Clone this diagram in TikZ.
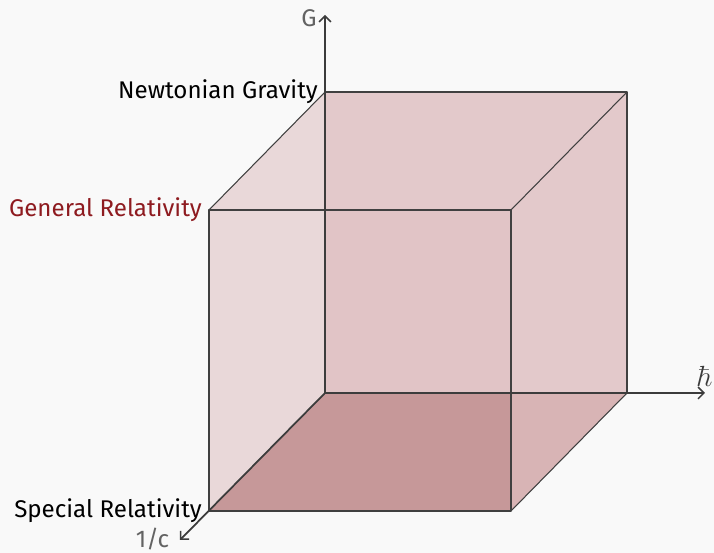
\documentclass[tikz,border=0pt]{standalone}
\usepackage[no-math]{fontspec}
\setmainfont{Fira Sans}
\usepackage{xcolor}
\definecolor{bggray}{HTML}{F9F9F9}
\definecolor{leftface}{HTML}{E9D8D9}
\definecolor{backface}{HTML}{E3C9CB}
\definecolor{frontback}{HTML}{E1C4C6}
\definecolor{bottomface}{HTML}{D8B4B5}
\definecolor{bottomfront}{HTML}{C69899}
\definecolor{edgegray}{HTML}{404040}
\definecolor{axisgray}{HTML}{3C3C3C}
\definecolor{relred}{HTML}{8E1B20}
\usetikzlibrary{arrows.meta}
\tikzset{
  cubeedge/.style={draw=edgegray,line width=0.9pt,line join=round},
  cubeaxis/.style={draw=axisgray,line width=1.5pt,-{Straight Barb[length=5pt,width=10pt,line width=1.3pt]}},
  theorylabel/.style={anchor=east,inner sep=6pt,font=\fontsize{20.6}{24}\selectfont},
  axislabel/.style={text=axisgray!80,inner sep=3pt,font=\fontsize{20.6}{24}\selectfont}
}

\begin{document}
\begin{tikzpicture}[x=0.03cm,y=0.03cm]
% canvas
\fill[bggray] (-325,-160) rectangle (389,393);
\useasboundingbox (-325,-160) rectangle (389,393);
% corners of the cube
\coordinate (o) at (0,0);
\coordinate (bx) at (302,0);
\coordinate (bxy) at (302,301);
\coordinate (by) at (0,301);
\coordinate (f0) at (-116,-118);
\coordinate (fx) at (186,-118);
\coordinate (fxy) at (186,183);
\coordinate (fy) at (-116,183);
% axis ends
\coordinate (gtip) at (0,378);
\coordinate (htip) at (380,0);
\coordinate (ctip) at (-145,-147);
% faces
\fill[leftface] (by)--(o)--(f0)--(fy)--cycle;
\fill[backface] (o)--(bx)--(bxy)--(by)--cycle;
\fill[frontback] (o) rectangle (fxy);
\fill[bottomface] (o)--(bx)--(fx)--(f0)--cycle;
\fill[bottomfront] (o)--(fx|-o)--(fx)--(f0)--cycle;
% edges
\draw[cubeedge] (by)--(bxy)--(bx);
\draw[cubeedge] (f0)--(fx)--(fxy)--(fy)--cycle;
\draw[cubeedge] (by)--(fy);
\draw[cubeedge] (bxy)--(fxy);
\draw[cubeedge] (bx)--(fx);
% axes
\draw[cubeaxis] (o)--(gtip);
\draw[cubeaxis] (o)--(htip);
\draw[cubeaxis] (o)--(ctip);
\node[axislabel,anchor=east,xshift=-4,yshift=-3] (glabel) at (gtip) {G};
\node[axislabel,anchor=south,yshift=2,text=axisgray,font=\fontsize{24}{28}\selectfont] (hlabel) at (htip) {$\hbar$};
\node[axislabel,anchor=east,inner sep=1pt,xshift=-8,yshift=1] (clabel) at (ctip) {1/c};
% theories at the corners
\node[theorylabel] (newton) at (by) {Newtonian Gravity};
\node[theorylabel,text=relred] (gr) at (fy) {General Relativity};
\node[theorylabel] (sr) at (f0) {Special Relativity};
\end{tikzpicture}
\end{document}
